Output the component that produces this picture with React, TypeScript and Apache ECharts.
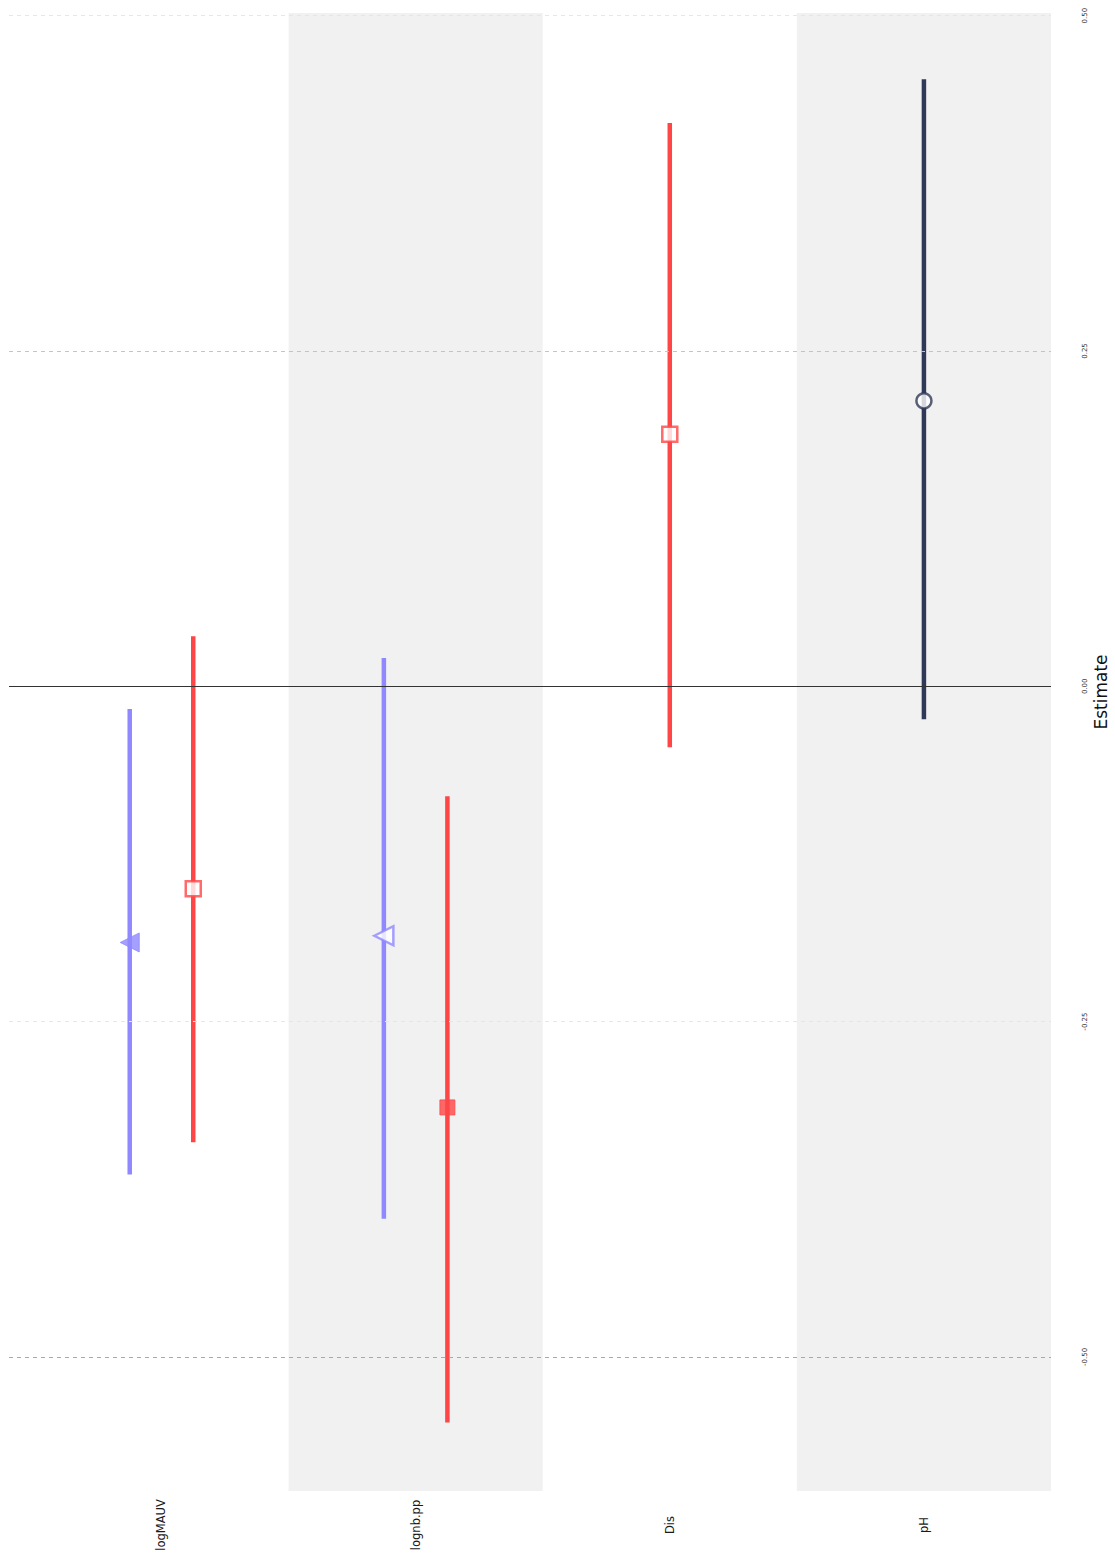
import React, { useEffect, useRef } from "react";
import * as echarts from "echarts";

// Categories (variables), in plot order
const categories = ["logMAUV", "lognb.pp", "Dis", "pH"];

// Model 1 (purple)
const model1Categories = ["logMAUV", "lognb.pp"];
const model1Estimate = [-0.191, -0.186];
const model1Low = [-0.364, -0.397];
const model1High = [-0.017, 0.021];

// Model 2 (red)
const model2Categories = ["logMAUV", "lognb.pp", "Dis"];
const model2Estimate = [-0.151, -0.314, 0.188];
const model2Low = [-0.34, -0.549, -0.0455];
const model2High = [0.0373, -0.082, 0.42];

// Model 3 (navy)
const model3Categories = ["pH"];
const model3Estimate = [0.2128];
const model3Low = [-0.0246];
const model3High = [0.4526];

// Value-axis tick labels
const tickValues = [-0.5, -0.25, 0, 0.25, 0.5];

const modelNames = ["Model 1", "Model 2", "Model 3"];

export default function App() {
  const ref = useRef<HTMLDivElement>(null);

  useEffect(() => {
    document.body.style.margin = "0";
    if (!ref.current) return;
    const chart = echarts.init(ref.current, null, { renderer: "svg" });

    const models = [
      { name: modelNames[0], cats: model1Categories, est: model1Estimate, lo: model1Low, hi: model1High, color: "#8f88ff", symbol: "triangle", size: 19, rotate: 90 },
      { name: modelNames[1], cats: model2Categories, est: model2Estimate, lo: model2Low, hi: model2High, color: "#ff4646", symbol: "rect", size: 15, rotate: 0 },
      { name: modelNames[2], cats: model3Categories, est: model3Estimate, lo: model3Low, hi: model3High, color: "#2f3856", symbol: "circle", size: 15, rotate: 0 },
    ];

    // dodge positions: models present in each category
    const present: Record<string, string[]> = {};
    categories.forEach((c) => (present[c] = []));
    models.forEach((m) => m.cats.forEach((c) => present[c].push(m.name)));
    const dodge = 0.25;
    const xPos = (cat: string, model: string) => {
      const idx = categories.indexOf(cat) + 1;
      const list = present[cat];
      const n = list.length;
      const k = list.indexOf(model);
      return idx + (k - (n - 1) / 2) * dodge;
    };

    const series: any[] = [];
    models.forEach((m, mi) => {
      const barData = m.cats.map((c, i) => [xPos(c, m.name), m.lo[i], m.hi[i]]);
      const bar: any = {
        type: "custom",
        name: m.name,
        z: 3,
        silent: true,
        encode: { x: 0, y: [1, 2] },
        data: barData,
        renderItem: (params: any, api: any) => {
          const x = api.value(0);
          const p1 = api.coord([x, api.value(1)]);
          const p2 = api.coord([x, api.value(2)]);
          return {
            type: "line",
            shape: { x1: p1[0], y1: p1[1], x2: p2[0], y2: p2[1] },
            style: { stroke: m.color, lineWidth: 4.5 },
          };
        },
      };
      if (mi === 0) {
        bar.markArea = {
          silent: true,
          z: 0,
          itemStyle: { color: "#f1f1f1" },
          data: [
            [{ xAxis: 1.5 }, { xAxis: 2.5 }],
            [{ xAxis: 3.5 }, { xAxis: 4.5 }],
          ],
        };
        bar.markLine = {
          silent: true,
          symbol: "none",
          label: { show: false },
          data: [
            { yAxis: 0.5, lineStyle: { color: "#e6e6e6", type: [4, 4], width: 1 } },
            { yAxis: 0.25, lineStyle: { color: "#c4c4c4", type: [4, 4], width: 1 } },
            { yAxis: -0.25, lineStyle: { color: "#e6e6e6", type: [4, 4], width: 1 } },
            { yAxis: -0.5, lineStyle: { color: "#a8a8a8", type: [4, 4], width: 1 } },
            { yAxis: 0, lineStyle: { color: "#333333", type: "solid", width: 1 } },
          ],
        };
      }
      series.push(bar);

      const pts = m.cats.map((c, i) => {
        const sig = m.lo[i] > 0 || m.hi[i] < 0;
        return {
          value: [xPos(c, m.name), m.est[i]],
          itemStyle: sig
            ? { color: m.color, borderColor: m.color, borderWidth: 1 }
            : { color: "#ffffff", borderColor: m.color, borderWidth: 2.5 },
        };
      });
      series.push({
        type: "scatter",
        name: m.name,
        z: 4,
        silent: true,
        symbol: m.symbol,
        symbolSize: m.size,
        symbolRotate: m.rotate,
        data: pts,
      });
    });

    chart.setOption({
      animation: false,
      textStyle: { fontFamily: "DejaVu Sans" },
      grid: { left: 9, right: 64, top: 13, bottom: 66 },
      xAxis: {
        type: "value",
        min: 0.4,
        max: 4.5,
        axisLine: { show: false },
        axisTick: { show: false },
        splitLine: { show: false },
        axisLabel: {
          customValues: [1, 2, 3, 4],
          formatter: (v: number) => categories[Math.round(v) - 1] ?? "",
          rotate: 90,
          align: "center",
          verticalAlign: "middle",
          margin: 34,
          fontSize: 11.5,
          color: "#1a1a1a",
          fontFamily: "DejaVu Sans",
        },
      },
      yAxis: {
        type: "value",
        position: "right",
        min: -0.6,
        max: 0.502,
        axisLine: { show: false },
        axisTick: { show: false },
        splitLine: { show: false },
        axisLabel: {
          customValues: tickValues,
          formatter: (v: number) => v.toFixed(2),
          rotate: 90,
          align: "center",
          verticalAlign: "middle",
          margin: 34,
          fontSize: 7,
          color: "#333333",
          fontFamily: "DejaVu Sans",
        },
      },
      graphic: [
        {
          type: "text",
          x: 1101,
          y: 692,
          rotation: Math.PI / 2,
          style: {
            text: "Estimate",
            fontSize: 17,
            fontFamily: "DejaVu Sans",
            fill: "#111111",
            align: "center",
            verticalAlign: "middle",
          },
        },
      ],
      series,
    });

    return () => chart.dispose();
  }, []);

  return <div ref={ref} style={{ width: 1115, height: 1557 }} />;
}
